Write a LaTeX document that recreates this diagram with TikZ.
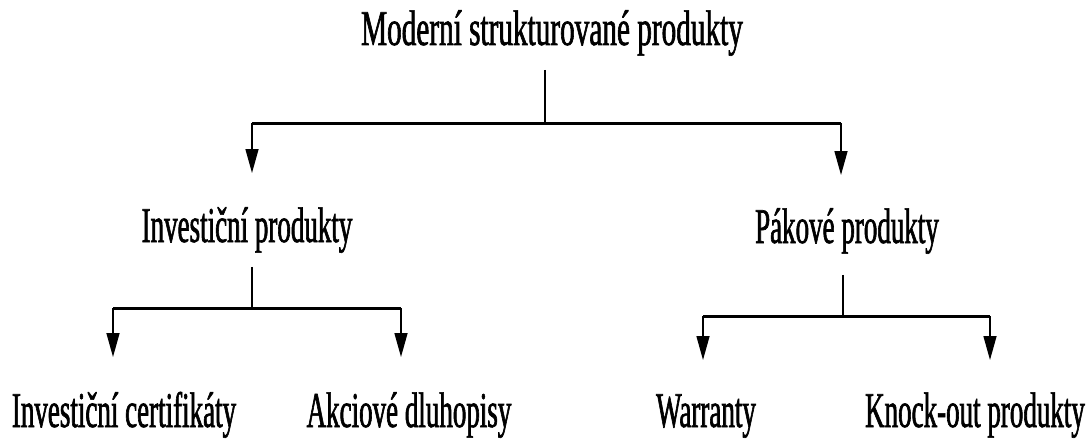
\documentclass[tikz,border=0pt]{standalone}
\usepackage{fontspec}
\setmainfont{Liberation Serif}
\newfontfamily\narrowfont[FakeStretch=0.54,FakeBold=1.2]{Liberation Serif}
\newfontfamily\widefont[FakeStretch=0.585,FakeBold=1.2]{Liberation Serif}
\usetikzlibrary{arrows.meta,positioning}
\tikzset{
  lbl/.style={font=\narrowfont\fontsize{50}{50}\selectfont, anchor=base, inner sep=0pt},
  ttl/.style={lbl, font=\widefont\fontsize{50}{50}\selectfont},
  bar/.style={line width=3pt},
  stem/.style={line width=2pt},
  arr/.style={line width=1.5pt, -{Triangle[width=13pt,length=24pt]}}
}

\begin{document}
\begin{tikzpicture}[x=1pt,y=-1pt]
  \useasboundingbox (0,0) rectangle (1088,439);
  % levels
  \node[ttl] (top) at (552,45) {Moderní strukturované produkty};
  \node[lbl] (inv) at (247,242) {Investiční produkty};
  \node[lbl] (pak) at (847,243) {Pákové produkty};
  \node[lbl] (cert) at (124,427) {Investiční certifikáty};
  \node[lbl] (dluh) at (409,427) {Akciové dluhopisy};
  \node[lbl] (warr) at (706,427) {Warranty};
  \node[lbl] (knock) at (975,427) {Knock-out produkty};
  % branch points and arrow tips
  \coordinate (j0) at (545,123);
  \coordinate (j1) at (252,308);
  \coordinate (j2) at (843,316);
  \coordinate (t1) at (252,173);  \coordinate (t2) at (841,175);
  \coordinate (t3) at (113,357);  \coordinate (t4) at (401,357);
  \coordinate (t5) at (703,360);  \coordinate (t6) at (990,360);
  % top branch
  \draw[stem] ([yshift=-14pt]top.south -| j0) -- (j0);
  \draw[bar] (j0 -| t1) -- (j0 -| t2);
  \draw[arr] (j0 -| t1) -- (t1);
  \draw[arr] (j0 -| t2) -- (t2);
  % investment branch
  \draw[stem] ([yshift=-14pt]inv.south -| j1) -- (j1);
  \draw[bar] (j1 -| t3) -- (j1 -| t4);
  \draw[arr] (j1 -| t3) -- (t3);
  \draw[arr] (j1 -| t4) -- (t4);
  % leverage branch
  \draw[stem] ([yshift=-21pt]pak.south -| j2) -- (j2);
  \draw[bar] (j2 -| t5) -- (j2 -| t6);
  \draw[arr] (j2 -| t5) -- (t5);
  \draw[arr] (j2 -| t6) -- (t6);
\end{tikzpicture}
\end{document}
